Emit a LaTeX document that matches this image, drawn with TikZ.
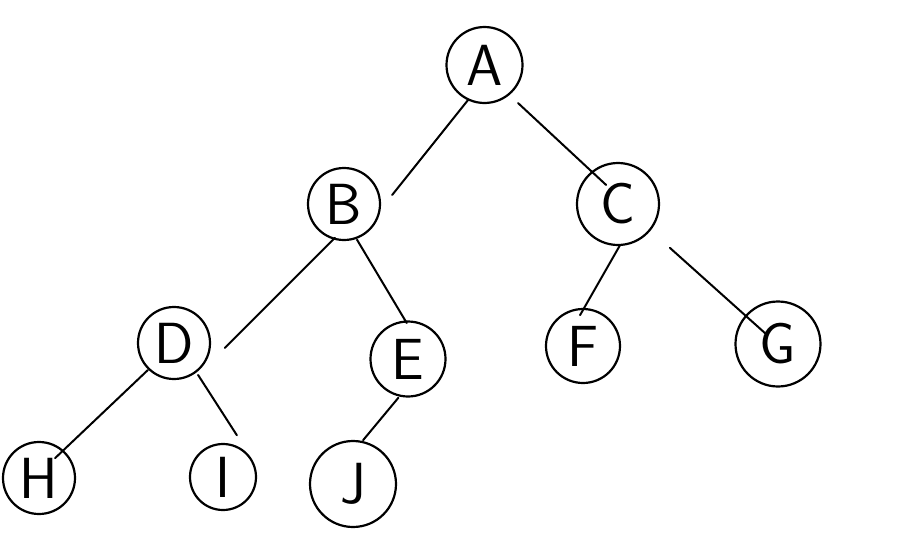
\documentclass[tikz,border=0pt]{standalone}
\usetikzlibrary{calc}
\tikzset{
  nd/.style={draw, circle, line width=2.2pt, inner sep=0pt, font=\fontsize{58}{58}\selectfont\sffamily},
  edge/.style={line width=2pt, line cap=round}
}
\begin{document}
\begin{tikzpicture}[x=1pt,y=-1pt]
\useasboundingbox (0,0) rectangle (903,557);
\node[nd, minimum size=76pt] (A) at (484.5,65) {A};
\node[nd, minimum size=72pt] (B) at (344,204) {B};
\node[nd, minimum size=82pt] (C) at (618,204) {C};
\node[nd, minimum size=72pt] (D) at (174,343) {D};
\node[nd, minimum size=75pt] (E) at (408,359) {E};
\node[nd, minimum size=74pt] (F) at (583,346) {F};
\node[nd, minimum size=85pt] (G) at (778,344) {G};
\node[nd, minimum size=72pt] (H) at (39,478) {H};
\node[nd, minimum size=66pt] (I) at (223,477) {I};
\node[nd, minimum size=86pt] (J) at (353,484) {J};

\draw[edge] ($(A)+(244.8:38.7pt)$) -- ($(B)+(10.6:49pt)$);
\draw[edge] ($(A)+(311.4:50.7pt)$) -- ($(C)+(122:22.5pt)$);
\draw[edge] ($(B)+(255:35pt)$) -- ($(D)+(354.4:51pt)$);
\draw[edge] ($(B)+(290:38pt)$) -- ($(E)+(92:36pt)$);
\draw[edge] ($(C)+(273:41pt)$) -- ($(F)+(95.5:31pt)$);
\draw[edge] ($(C)+(319.8:68pt)$) -- ($(G)+(140:17pt)$);
\draw[edge] ($(D)+(226:37.5pt)$) -- ($(H)+(51:25.6pt)$);
\draw[edge] ($(D)+(307:40pt)$) -- ($(I)+(71.6:44pt)$);
\draw[edge] ($(E)+(256:40pt)$) -- ($(J)+(77:45pt)$);
\end{tikzpicture}
\end{document}
